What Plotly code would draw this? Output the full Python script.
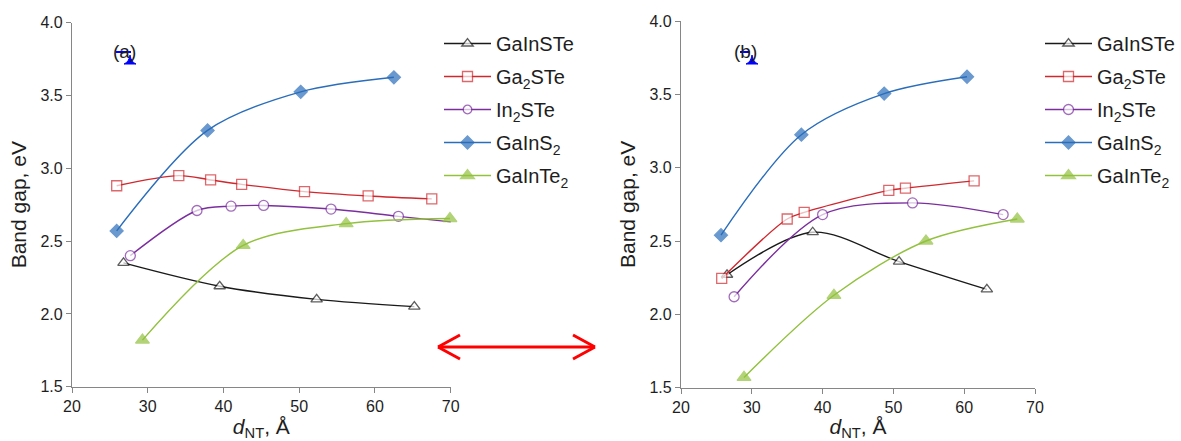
import plotly.graph_objects as go

W, H = 1181, 441

names = ["GaInSTe", "Ga<sub>2</sub>STe", "In<sub>2</sub>STe", "GaInS<sub>2</sub>", "GaInTe<sub>2</sub>"]
colors = ["#1a1a1a", "#d0282e", "#7b2f9e", "#2a6ebb", "#92c13e"]
symbols = ["triangle-up", "square", "circle", "diamond", "triangle-up"]
fills = ["white", "white", "white", "#2a6ebb", "#92c13e"]
msizes = [10, 10, 10, 10, 12]

# Panel (a)
a_x = [
    [26.8, 39.5, 52.3, 65.2],
    [25.9, 34.1, 38.3, 42.4, 50.7, 59.1, 67.5],
    [27.7, 36.5, 41.0, 45.3, 54.2, 63.1, 72.3],
    [25.9, 37.9, 50.2, 62.5],
    [29.3, 42.6, 56.2, 69.9],
]
a_y = [
    [2.35, 2.19, 2.10, 2.05],
    [2.88, 2.95, 2.92, 2.89, 2.84, 2.81, 2.79],
    [2.40, 2.71, 2.74, 2.745, 2.72, 2.67, 2.62],
    [2.57, 3.26, 3.525, 3.625],
    [1.82, 2.47, 2.62, 2.655],
]
# last In2STe point of panel (a) lies outside the plotted markers (line only)
a_marker_hidden = [[], [], [6], [], []]

# Panel (b)
b_x = [
    [26.5, 38.6, 50.8, 63.2],
    [25.75, 35.0, 37.4, 49.35, 51.7, 61.4],
    [27.5, 40.0, 52.7, 65.5],
    [25.65, 37.0, 48.7, 60.4],
    [28.9, 41.6, 54.6, 67.5],
]
b_y = [
    [2.27, 2.56, 2.36, 2.17],
    [2.245, 2.65, 2.695, 2.845, 2.86, 2.91],
    [2.12, 2.68, 2.76, 2.68],
    [2.54, 3.225, 3.505, 3.62],
    [1.57, 2.13, 2.50, 2.65],
]

x_ticks = [20, 30, 40, 50, 60, 70]
y_ticks = [1.5, 2.0, 2.5, 3.0, 3.5, 4.0]

FONT = "Liberation Sans, Arial, sans-serif"
AXC = "#868686"
TXT = "#1e1e1e"

fig = go.Figure()

def add_panel(xs, ys, xa, ya, legend, hidden=None):
    for i in range(5):
        sizes = [msizes[i]] * len(xs[i])
        if hidden:
            for k in hidden[i]:
                sizes[k] = 0
        fig.add_trace(go.Scatter(
            x=xs[i], y=ys[i], name=names[i], mode="lines+markers",
            xaxis=xa, yaxis=ya, legend=legend, legendgroup=legend + str(i),
            line=dict(color=colors[i], width=1.4, shape="spline", smoothing=0.9),
            marker=dict(symbol=symbols[i], size=sizes, color=fills[i],
                        line=dict(color=colors[i], width=1.3)),
            cliponaxis=False,
        ))

add_panel(a_x, a_y, "x", "y", "legend", a_marker_hidden)
add_panel(b_x, b_y, "x2", "y2", "legend2")

def px(x):
    return x / W

def py(y):
    return 1 - y / H

xax = dict(range=[20, 70], tickvals=x_ticks, ticks="outside", ticklen=5, tickcolor=AXC,
           showline=True, linecolor=AXC, linewidth=1.3, showgrid=False, zeroline=False,
           automargin=False,
           tickfont=dict(size=16, color=TXT, family=FONT),
           title=dict(text="<i>d</i><sub>NT</sub>, Å", font=dict(size=21, color=TXT, family=FONT), standoff=7))
yax = dict(range=[1.5, 4.0], tickvals=y_ticks, tickformat=".1f", ticks="outside", ticklen=5, tickcolor=AXC,
           showline=True, linecolor=AXC, linewidth=1.3, showgrid=False, zeroline=False,
           automargin=False,
           tickfont=dict(size=16, color=TXT, family=FONT),
           title=dict(text="Band gap, eV", font=dict(size=21, color=TXT, family=FONT), standoff=8))

leg = dict(font=dict(size=20, color=TXT, family=FONT), bgcolor="rgba(0,0,0,0)",
           xanchor="left", yanchor="top", tracegroupgap=4, itemwidth=47,
           traceorder="grouped")

fig.update_layout(
    width=W, height=H,
    margin=dict(l=0, r=0, t=0, b=0, autoexpand=False),
    paper_bgcolor="white", plot_bgcolor="white",
    font=dict(family=FONT),
    xaxis=dict(xax, domain=[px(72), px(450.7)], anchor="y"),
    yaxis=dict(yax, domain=[py(386.7), py(22.7)], anchor="x"),
    xaxis2=dict(xax, domain=[px(681), px(1035)], anchor="y2"),
    yaxis2=dict(yax, domain=[py(387.7), py(21)], anchor="x2"),
    legend=dict(leg, x=px(439), y=py(24)),
    legend2=dict(leg, x=px(1040), y=py(24)),
    showlegend=True,
)

# panel labels
for lx, lbl in [(124, "(a)"), (745, "(b)")]:
    fig.add_annotation(x=px(lx), y=py(51), xref="paper", yref="paper", text=lbl,
                       xanchor="center", yanchor="middle",
                       showarrow=False, font=dict(size=19, color=TXT, family=FONT))

# blue stray marks near the labels
for (x0, x1, tx) in [(116, 131, 130), (740, 750, 752)]:
    fig.add_shape(type="line", xref="paper", yref="paper",
                  x0=px(x0), x1=px(x1), y0=py(52), y1=py(52),
                  line=dict(color="#0000ff", width=2))
    fig.add_shape(type="path", xref="paper", yref="paper",
                  path=f"M {px(tx)} {py(55)} Q {px(tx + 1)} {py(62)} {px(tx + 6)} {py(64)} "
                       f"L {px(tx - 6)} {py(64)} Q {px(tx - 1)} {py(62)} {px(tx)} {py(55)} Z",
                  fillcolor="#0000ff", line=dict(color="#0000ff", width=1))

# red double arrow
RED = "#ff0000"
fig.add_shape(type="line", xref="paper", yref="paper", x0=px(438), x1=px(595), y0=py(347), y1=py(347),
              line=dict(color=RED, width=3))
for (tip, end) in [(438, 460), (595, 573)]:
    for yy in (335, 359):
        fig.add_shape(type="line", xref="paper", yref="paper", x0=px(tip), x1=px(end),
                      y0=py(347), y1=py(yy), line=dict(color=RED, width=3))

fig.write_html("out.html")
